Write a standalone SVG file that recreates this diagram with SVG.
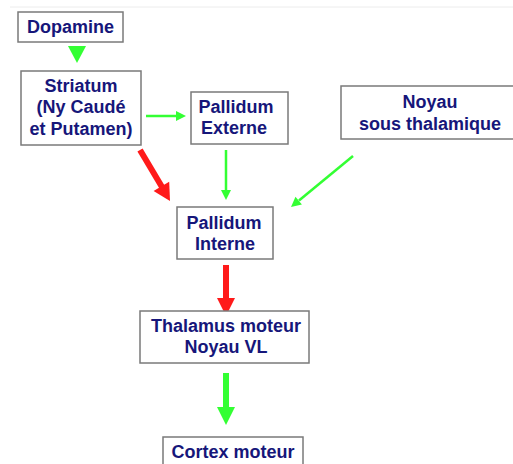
<svg xmlns="http://www.w3.org/2000/svg" width="513" height="464" viewBox="0 0 513 464">
<style>
.box{fill:#fff;stroke:#7a7a7a;stroke-width:1.5}
.t{font-family:"Liberation Sans",Arial,sans-serif;font-weight:bold;font-size:18px;fill:#16167a;text-anchor:middle}
.g{stroke:#33ff33;stroke-width:2.5;fill:none}
.gf{fill:#33ff33}
.r{stroke:#ff1a1a;stroke-width:6;fill:none}
.rf{fill:#ff1a1a}
.gt{stroke:#33ff33;stroke-width:6;fill:none}
</style>
<rect width="513" height="464" fill="#fff"/>
<line x1="10" y1="7" x2="513" y2="7" stroke="#ececec" stroke-width="1"/>
<g id="connectors">
<polygon class="gf" points="68,46 86,46 77,63"/>
<line class="g" x1="146" y1="116" x2="177" y2="116"/>
<polygon class="gf" points="176,111 186,116 176,121"/>
<line class="g" x1="226" y1="150" x2="226" y2="191"/>
<polygon class="gf" points="221,190 226,200 231,190"/>
<line class="g" x1="353" y1="156" x2="299" y2="200.5"/>
<polygon class="gf" points="291,207 301.9,204.5 295.5,196.8"/>
<line class="r" x1="140" y1="150" x2="162" y2="187"/>
<polygon class="rf" points="170,201 169.2,181.8 153.6,190.9"/>
<line class="r" x1="226" y1="265" x2="226" y2="299"/>
<polygon class="rf" points="217,298 235,298 226,316"/>
<line class="gt" x1="226" y1="373" x2="226" y2="408"/>
<polygon class="gf" points="217,407 235,407 226,425"/>
</g>
<g id="dopamine">
<rect class="box" x="18" y="12" width="105" height="30"/>
<text class="t" x="70.5" y="33">Dopamine</text>
</g>
<g id="striatum">
<rect class="box" x="21" y="71" width="120" height="74"/>
<text class="t" x="81" y="92">Striatum</text>
<text class="t" x="81" y="113">(Ny Caudé</text>
<text class="t" x="81" y="135">et Putamen)</text>
</g>
<g id="pallidum-externe">
<rect class="box" x="191" y="92" width="97" height="52"/>
<text class="t" x="236" y="113">Pallidum</text>
<text class="t" x="234" y="134">Externe</text>
</g>
<g id="noyau-sous-thalamique">
<rect class="box" x="341" y="86" width="180" height="53"/>
<text class="t" x="430" y="108">Noyau</text>
<text class="t" x="430" y="130">sous thalamique</text>
</g>
<g id="pallidum-interne">
<rect class="box" x="177" y="207" width="96" height="52"/>
<text class="t" x="224" y="229">Pallidum</text>
<text class="t" x="225" y="250">Interne</text>
</g>
<g id="thalamus">
<rect class="box" x="140" y="311" width="169" height="52"/>
<text class="t" x="226" y="332">Thalamus moteur</text>
<text class="t" x="226" y="353">Noyau VL</text>
</g>
<g id="cortex">
<rect class="box" x="163" y="437" width="140" height="40"/>
<text class="t" x="233" y="458">Cortex moteur</text>
</g>
</svg>
